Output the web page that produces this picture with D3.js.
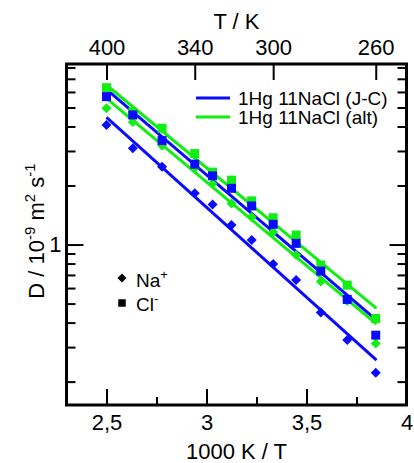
<!DOCTYPE html>
<html>
<head>
<meta charset="utf-8">
<script src="https://cdn.jsdelivr.net/npm/d3@7"></script>
<style>
  body { margin: 0; background: #fff; }
  svg { display: block; font-family: "Liberation Sans", Arial, sans-serif; }
  .domain { display: none; }
</style>
</head>
<body>
<svg width="414" height="463"></svg>
<script>
// --- Data ---
const temps = [400, 380, 360, 340, 330, 320, 310, 300, 290, 280, 270, 260];
// D / 1e-9 m^2 s^-1
const naJC  = [4.07, 3.10, 2.49, 1.825, 1.60, 1.257, 1.054, 0.795, 0.659, 0.450, 0.326, 0.222];
const clJC  = [5.68, 4.58, 3.39, 2.57, 2.24, 1.935, 1.573, 1.268, 1.014, 0.732, 0.525, 0.345];
const naAlt = [4.95, 4.21, 3.20, 2.46, 2.04, 1.62, 1.38, 1.16, 0.884, 0.648, 0.515, 0.313];
const clAlt = [6.31, 4.74, 3.92, 2.91, 2.34, 2.13, 1.67, 1.37, 1.118, 0.786, 0.621, 0.420];
// fit lines: [1000/T, D] at both ends
const fitX = [2.5, 3.85];
const fitNaJC  = [4.45, 0.2575];
const fitClJC  = [6.19, 0.412];
const fitNaAlt = [5.57, 0.393];
const fitClAlt = [6.51, 0.473];

const topTicks = [400, 340, 300, 260];
const bottomTicks = [2.5, 3, 3.5, 4];
const bottomMinor = [2.75, 3.25, 3.75];
const yMajor = [1];
const yMinor = [0.2, 0.3, 0.4, 0.5, 0.6, 0.7, 0.8, 0.9, 2, 3, 4, 5, 6, 7, 8];
const legendLabels = ["1Hg 11NaCl (J-C)", "1Hg 11NaCl (alt)"];

const blue = "#0a0aff", green = "#11ee11";

// --- Setup ---
const svg = d3.select("svg");
const pL = 66.5, pR = 406.5, pT = 64, pB = 405;

const x = d3.scaleLinear().domain([2.3, 4]).range([pL, pR]);
const y = d3.scaleLog().domain([0.152, 8.33]).range([pB, pT]);

// --- Axes ---
const fs = 22;
svg.append("g").attr("transform", `translate(0,${pB})`)
  .call(d3.axisBottom(x).tickValues(bottomTicks).tickSize(-16).tickPadding(9)
    .tickFormat(d => String(d).replace(".", ",")));
svg.append("g").attr("transform", `translate(0,${pB})`)
  .call(d3.axisBottom(x).tickValues(bottomMinor).tickSize(-8).tickFormat(""));

svg.append("g").attr("transform", `translate(0,${pT})`)
  .call(d3.axisTop(x).tickValues(topTicks.map(t => 1000 / t)).tickSize(-16).tickPadding(9)
    .tickFormat(d => Math.round(1000 / d)));

svg.append("g").attr("transform", `translate(${pL},0)`)
  .call(d3.axisLeft(y).tickValues(yMajor).tickSize(-17).tickPadding(5).tickFormat(d3.format("d")));
svg.append("g").attr("transform", `translate(${pL},0)`)
  .call(d3.axisLeft(y).tickValues(yMinor).tickSize(-9).tickFormat(""));
svg.append("g").attr("transform", `translate(${pR},0)`)
  .call(d3.axisRight(y).tickValues(yMajor).tickSize(-17).tickFormat(""));
svg.append("g").attr("transform", `translate(${pR},0)`)
  .call(d3.axisRight(y).tickValues(yMinor).tickSize(-9).tickFormat(""));

svg.selectAll(".tick line").attr("stroke", "#000").attr("stroke-width", 2);
svg.selectAll(".tick text").attr("font-size", fs).attr("fill", "#000")
  .attr("font-family", "'Liberation Sans', Arial, sans-serif");

// frame
svg.append("rect")
  .attr("x", pL).attr("y", pT)
  .attr("width", pR - pL).attr("height", pB - pT)
  .attr("fill", "none").attr("stroke", "#000").attr("stroke-width", 3);

// --- Titles ---
svg.append("text").attr("x", (pL + pR) / 2).attr("y", 459)
  .attr("text-anchor", "middle").attr("font-size", fs).text("1000 K / T");
svg.append("text").attr("x", (pL + pR) / 2).attr("y", 29)
  .attr("text-anchor", "middle").attr("font-size", fs).text("T / K");

const yl = svg.append("text")
  .attr("transform", "translate(44,231) rotate(-90)")
  .attr("text-anchor", "middle").attr("font-size", fs);
yl.append("tspan").text("D / 10");
yl.append("tspan").attr("font-size", 15).attr("dy", -9).text("-9");
yl.append("tspan").attr("dy", 9).text(" m");
yl.append("tspan").attr("font-size", 15).attr("dy", -9).text("2");
yl.append("tspan").attr("dy", 9).text(" s");
yl.append("tspan").attr("font-size", 15).attr("dy", -9).text("-1");

// --- Fit lines ---
const line = d3.line().x(d => x(d[0])).y(d => y(d[1]));
const fits = [
  [fitClAlt, green], [fitNaAlt, green], [fitClJC, blue], [fitNaJC, blue]
];
fits.forEach(([f, c]) => {
  svg.append("path")
    .datum(fitX.map((xv, i) => [xv, f[i]]))
    .attr("d", line)
    .attr("fill", "none").attr("stroke", c).attr("stroke-width", 3);
});

// --- Points ---
const sq = d3.symbol().type(d3.symbolSquare).size(81);
const dm = d3.symbol().type(d3.symbolSquare).size(50);
const series = [
  [clAlt, green, "sq"], [naAlt, green, "dm"], [clJC, blue, "sq"], [naJC, blue, "dm"]
];
series.forEach(([vals, c, kind]) => {
  svg.append("g").selectAll("path")
    .data(vals.map((v, i) => [1000 / temps[i], v]))
    .enter().append("path")
      .attr("d", kind === "sq" ? sq : dm)
      .attr("transform", d => `translate(${x(d[0])},${y(d[1])})` + (kind === "dm" ? " rotate(45)" : ""))
      .attr("fill", c);
});

// --- Legend (lines) ---
const lg = svg.append("g");
[blue, green].forEach((c, i) => {
  const ly = 98 + i * 19;
  lg.append("line").attr("x1", 196).attr("x2", 230).attr("y1", ly).attr("y2", ly)
    .attr("stroke", c).attr("stroke-width", 3);
  lg.append("text").attr("x", 238).attr("y", ly + 7).attr("font-size", 19)
    .text(legendLabels[i]);
});

// --- Legend (symbols) ---
svg.append("path").attr("d", d3.symbol().type(d3.symbolSquare).size(40))
  .attr("transform", "translate(122,278) rotate(45)").attr("fill", "#000");
svg.append("path").attr("d", d3.symbol().type(d3.symbolSquare).size(56))
  .attr("transform", "translate(122,303)").attr("fill", "#000");
const na = svg.append("text").attr("x", 136).attr("y", 287).attr("font-size", 19);
na.append("tspan").text("Na");
na.append("tspan").attr("font-size", 13).attr("dy", -8).text("+");
const cl = svg.append("text").attr("x", 136).attr("y", 311).attr("font-size", 19);
cl.append("tspan").text("Cl");
cl.append("tspan").attr("font-size", 13).attr("dy", -8).text("-");
</script>
</body>
</html>
